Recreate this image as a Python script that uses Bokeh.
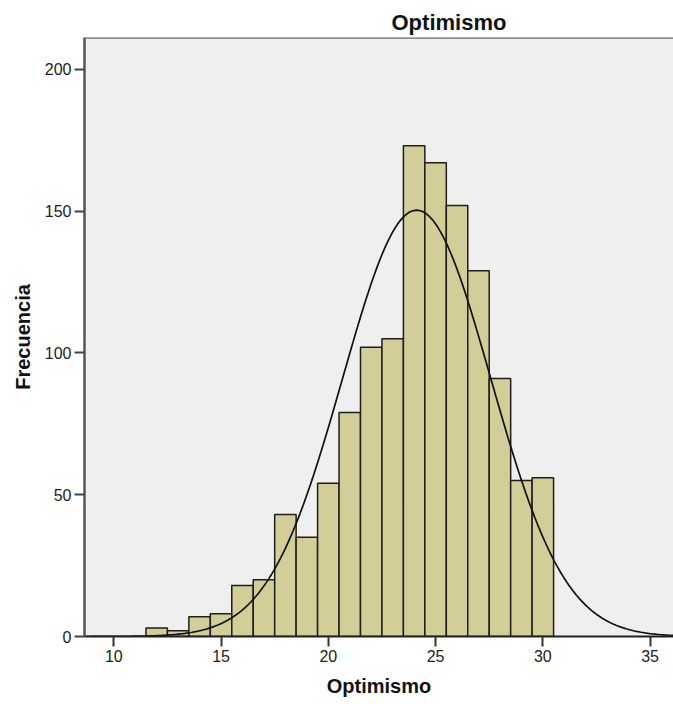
import numpy as np
from bokeh.plotting import figure
from bokeh.models import Range1d, FixedTicker, Span, ColumnDataSource
from bokeh.embed import file_html
from bokeh.resources import INLINE

# Data (bin centres and frequencies)
bin_centers = [12, 13, 14, 15, 16, 17, 18, 19, 20, 21, 22, 23, 24, 25, 26, 27, 28, 29, 30]
frequencies = [3, 2, 7, 8, 18, 20, 43, 35, 54, 79, 102, 105, 173, 167, 152, 129, 91, 55, 56]
x_ticks = [10, 15, 20, 25, 30, 35]
y_ticks = [0, 50, 100, 150, 200]
title_text = "Optimismo"
x_label = "Optimismo"
y_label = "Frecuencia"

BIN_WIDTH = 1.0
X_START, X_END = 8.635, 36.09
Y_START, Y_END = 0, 211.2

FONT = "Liberation Sans"

centers = np.array(bin_centers, dtype=float)
freqs = np.array(frequencies, dtype=float)

bars = ColumnDataSource(dict(
    left=centers - BIN_WIDTH / 2,
    right=centers + BIN_WIDTH / 2,
    top=freqs,
))

# Normal curve fitted to the histogram (as SPSS does)
n = freqs.sum()
mean = (centers * freqs).sum() / n
sd = np.sqrt(((centers - mean) ** 2 * freqs).sum() / (n - 1))
xs = np.linspace(X_START, X_END, 400)
ys = n * BIN_WIDTH * np.exp(-0.5 * ((xs - mean) / sd) ** 2) / (sd * np.sqrt(2 * np.pi))

p = figure(
    width=673, height=704,
    output_backend="svg", toolbar_location=None,
    x_range=Range1d(X_START, X_END), y_range=Range1d(Y_START, Y_END),
    min_border_left=84, min_border_right=0, min_border_top=37, min_border_bottom=68,
)
p.background_fill_color = "#efefef"
p.border_fill_color = "white"
p.outline_line_color = None
p.xgrid.visible = False
p.ygrid.visible = False

p.quad(left="left", right="right", top="top", bottom=0, source=bars,
       fill_color="#d3ce97", line_color="#1e1e1e", line_width=1.5)
p.line(xs, ys, line_color="#111111", line_width=1.7)

p.add_layout(Span(location=Y_END, dimension="width", line_color="#666666", line_width=2.5))

# Title
p.title.text = title_text
p.title.text_font = FONT
p.title.text_font_style = "bold"
p.title.text_font_size = "22px"
p.title.text_color = "#111111"
p.title.align = "left"
p.title.offset = 307
p.title.standoff = 6

for ax in (p.xaxis[0], p.yaxis[0]):
    ax.major_label_text_font = FONT
    ax.major_label_text_font_size = "16px"
    ax.major_label_text_color = "#222222"
    ax.axis_label_text_font = FONT
    ax.axis_label_text_font_style = "bold"
    ax.axis_label_text_font_size = "20px"
    ax.axis_label_text_color = "#111111"
    ax.major_tick_in = 0
    ax.major_tick_out = 10
    ax.minor_tick_line_color = None
    ax.major_tick_line_width = 2
    ax.major_label_standoff = 3

p.xaxis.ticker = FixedTicker(ticks=x_ticks)
p.yaxis.ticker = FixedTicker(ticks=y_ticks)
p.xaxis.axis_label = x_label
p.yaxis.axis_label = y_label
p.xaxis.axis_line_color = "#222222"
p.xaxis.axis_line_width = 2
p.xaxis.major_tick_line_color = "#333333"
p.yaxis.axis_line_color = "#555555"
p.yaxis.axis_line_width = 2.5
p.yaxis.major_tick_line_color = "#444444"
p.xaxis.axis_label_standoff = 10
p.yaxis.axis_label_standoff = 8

open("out.html", "w").write(file_html(p, INLINE))
